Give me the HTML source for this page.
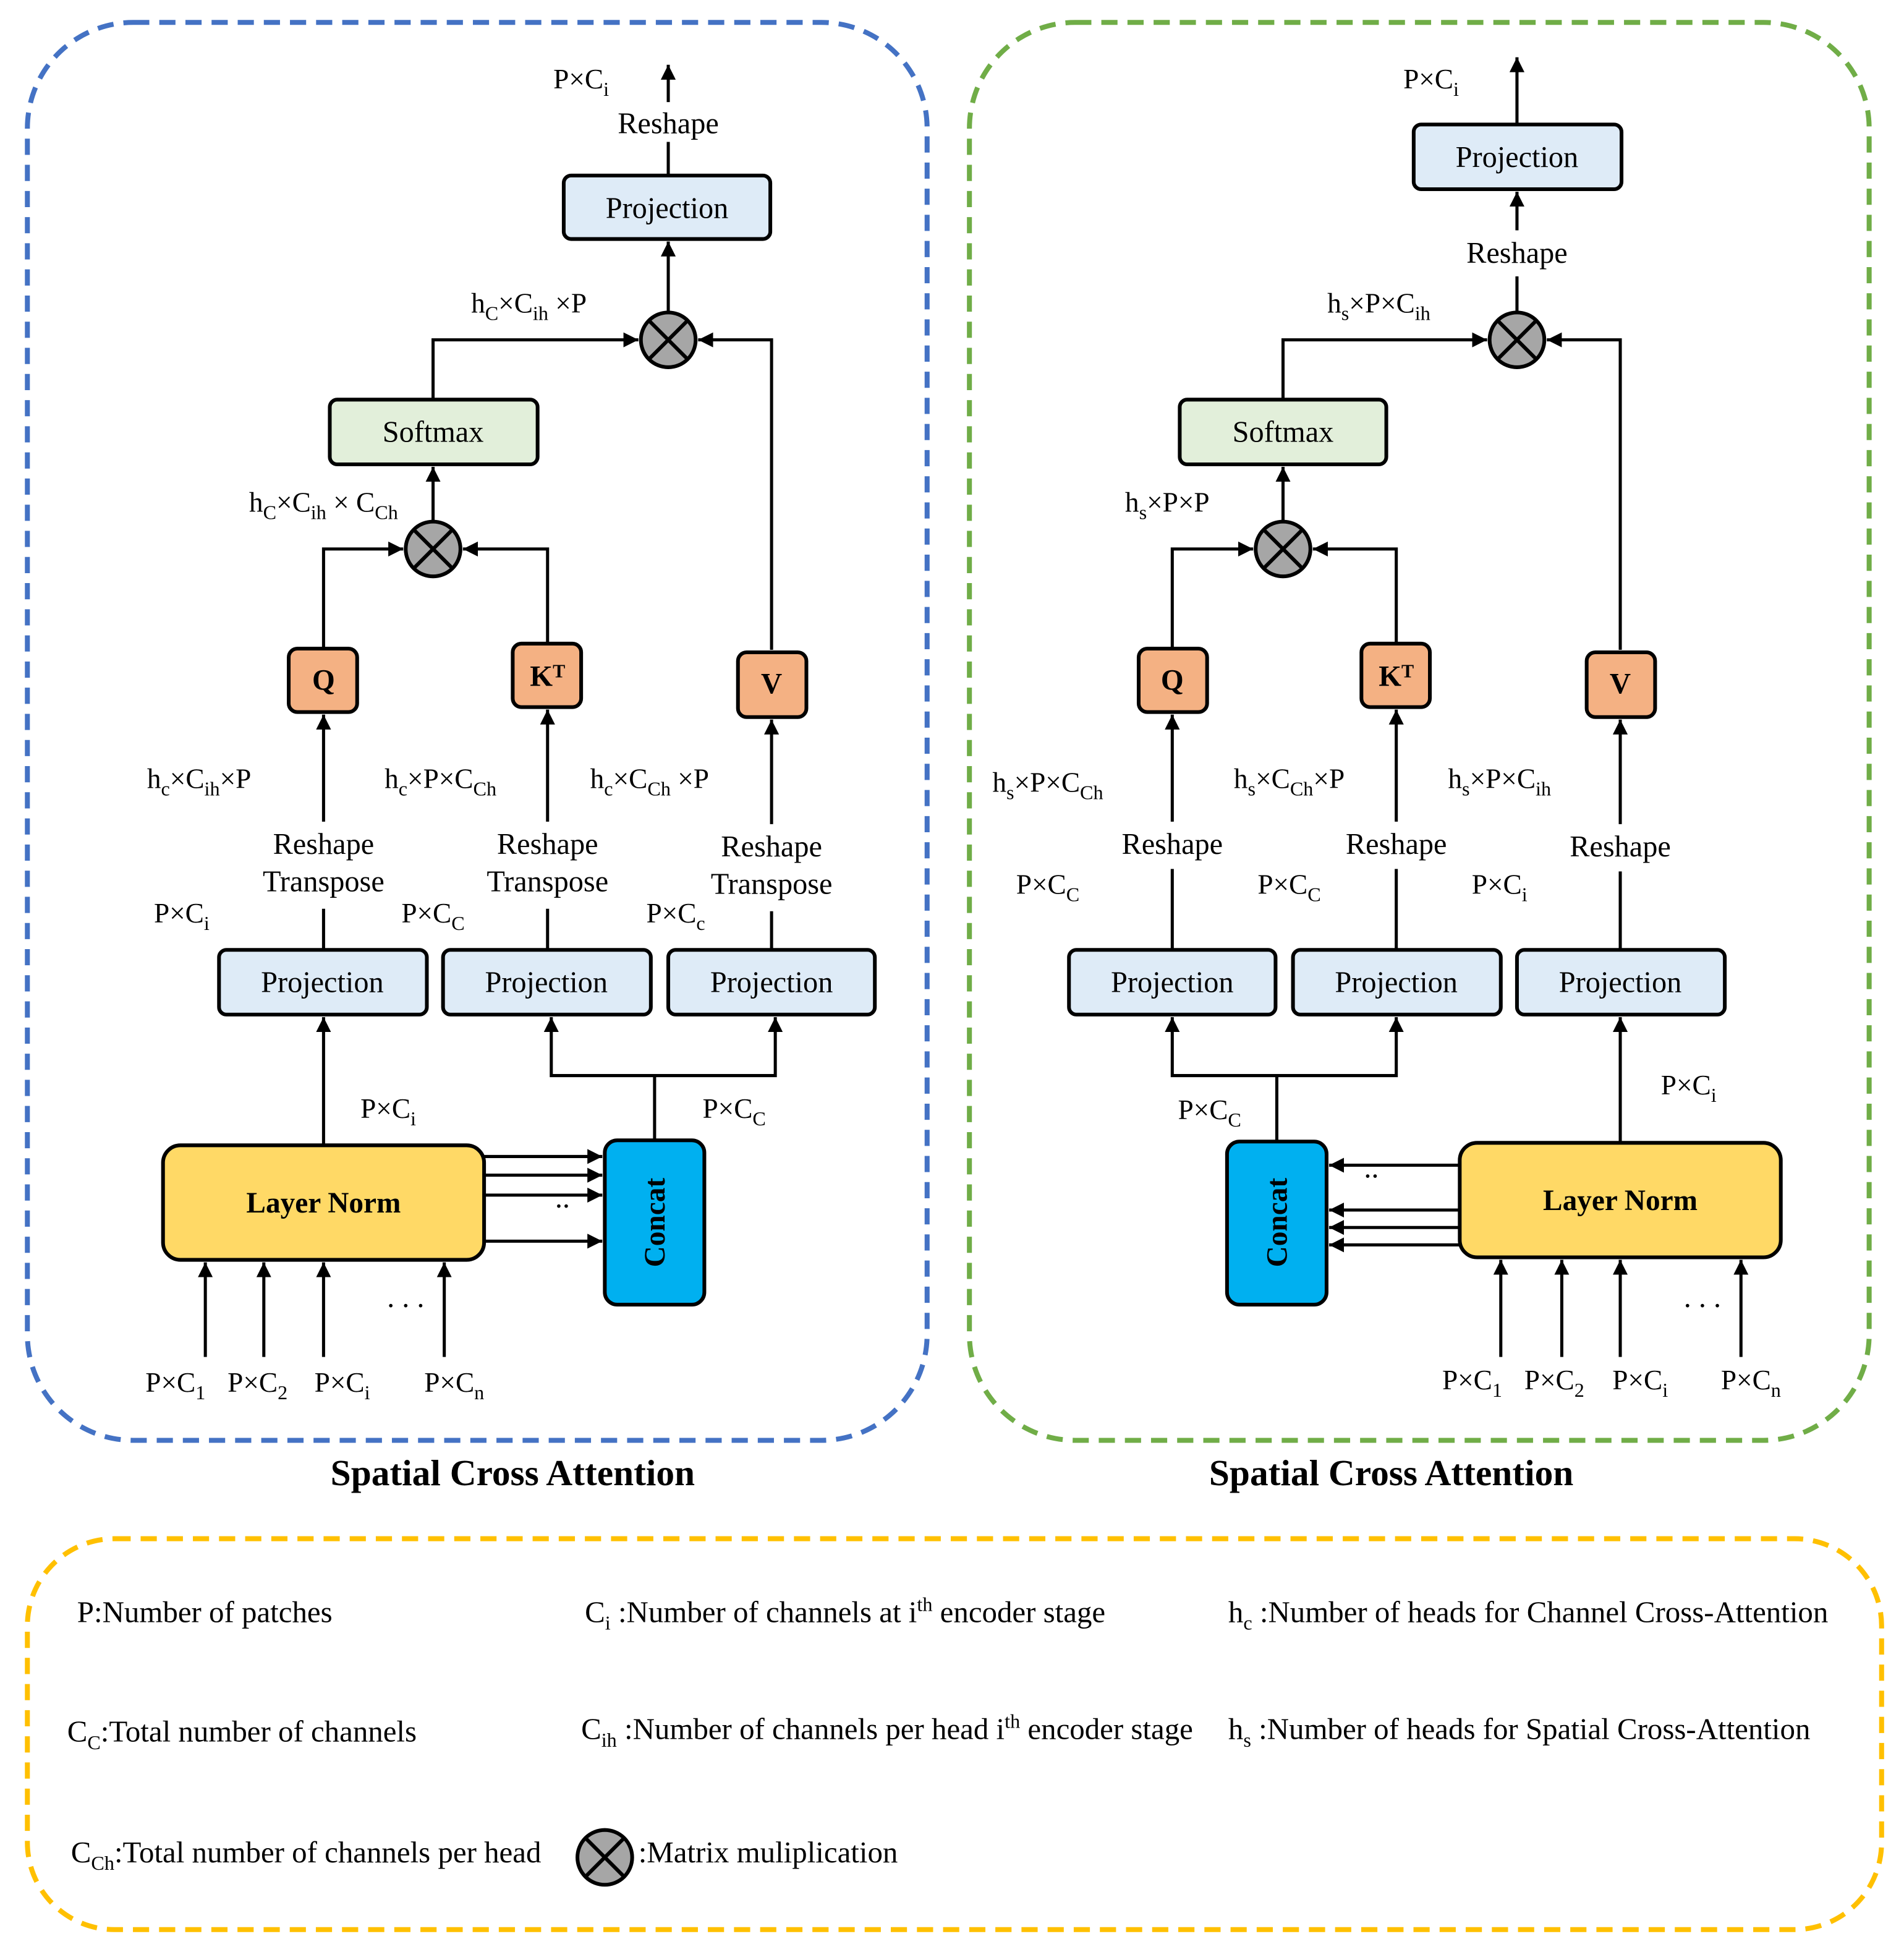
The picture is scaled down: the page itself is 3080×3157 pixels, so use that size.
<!DOCTYPE html>
<html><head><meta charset="utf-8"><style>html,body{margin:0;padding:0;background:#fff}svg{display:block}svg text{font-family:"Liberation Serif","DejaVu Serif",serif}</style></head><body>
<svg width="3080" height="3157" viewBox="0 0 1530 1568" preserveAspectRatio="none" xmlns="http://www.w3.org/2000/svg" style="font-family:'Liberation Serif',serif" font-size="23">
<defs>
<marker id="a" markerUnits="userSpaceOnUse" markerWidth="14" markerHeight="14" refX="12" refY="6" orient="auto"><path d="M0,0 L12,6 L0,12 Z" fill="#000"/></marker>
<g id="mul"><circle r="22" fill="#A6A6A6" stroke="#000" stroke-width="3"/><path d="M-15,-15 L15,15 M15,-15 L-15,15" stroke="#000" stroke-width="3"/></g>
</defs>
<rect x="22" y="18" width="723" height="1139" rx="85" fill="none" stroke="#4472C4" stroke-width="4" stroke-dasharray="13,8"/>
<rect x="779" y="18" width="723" height="1139" rx="85" fill="none" stroke="#70AD47" stroke-width="4" stroke-dasharray="13,8"/>
<rect x="22" y="1236" width="1490" height="314" rx="70" fill="none" stroke="#FFC000" stroke-width="4" stroke-dasharray="13,8"/>
<text x="412" y="1193" text-anchor="middle" font-weight="bold" font-size="29.5">Spatial Cross Attention</text>
<text x="1118" y="1193" text-anchor="middle" font-weight="bold" font-size="29.5">Spatial Cross Attention</text>

<g stroke="#000" stroke-width="2.5" fill="none">
<path d="M537,140 V114 M537,82 V52" marker-end="url(#a)"/>
<path d="M537,251 V194" marker-end="url(#a)"/>
<path d="M348,320 V273 H513" marker-end="url(#a)"/>
<path d="M620,522 V273 H561" marker-end="url(#a)"/>
<path d="M348,419 V375" marker-end="url(#a)"/>
<path d="M260,521 V441 H324" marker-end="url(#a)"/>
<path d="M440,517 V441 H372" marker-end="url(#a)"/>
<path d="M260,762 V730 M260,660 V574" marker-end="url(#a)"/>
<path d="M440,762 V730 M440,660 V570" marker-end="url(#a)"/>
<path d="M620,762 V732 M620,662 V578" marker-end="url(#a)"/>
<path d="M260,920 V817" marker-end="url(#a)"/>
<path d="M526,916 V864 H443 V817" marker-end="url(#a)"/>
<path d="M526,864 H623 V817" marker-end="url(#a)"/>
<path d="M389,929 H484" marker-end="url(#a)"/>
<path d="M389,944 H484" marker-end="url(#a)"/>
<path d="M389,960 H484" marker-end="url(#a)"/>
<path d="M389,997 H484" marker-end="url(#a)"/>
<path d="M165,1090 V1014" marker-end="url(#a)"/>
<path d="M212,1090 V1014" marker-end="url(#a)"/>
<path d="M260,1090 V1014" marker-end="url(#a)"/>
<path d="M357,1090 V1014" marker-end="url(#a)"/>
<path d="M1219,100 V46" marker-end="url(#a)"/>
<path d="M1219,251 V222 M1219,185 V154" marker-end="url(#a)"/>
<path d="M1031,320 V273 H1195" marker-end="url(#a)"/>
<path d="M1302,522 V273 H1243" marker-end="url(#a)"/>
<path d="M1031,419 V375" marker-end="url(#a)"/>
<path d="M942,521 V441 H1007" marker-end="url(#a)"/>
<path d="M1122,517 V441 H1055" marker-end="url(#a)"/>
<path d="M942,762 V698 M942,660 V574" marker-end="url(#a)"/>
<path d="M1122,762 V698 M1122,660 V570" marker-end="url(#a)"/>
<path d="M1302,762 V700 M1302,662 V578" marker-end="url(#a)"/>
<path d="M1302,918 V817" marker-end="url(#a)"/>
<path d="M1026,917 V864 H942 V817" marker-end="url(#a)"/>
<path d="M1026,864 H1122 V817" marker-end="url(#a)"/>
<path d="M1173,936 H1068" marker-end="url(#a)"/>
<path d="M1173,972 H1068" marker-end="url(#a)"/>
<path d="M1173,986 H1068" marker-end="url(#a)"/>
<path d="M1173,1000 H1068" marker-end="url(#a)"/>
<path d="M1206,1090 V1012" marker-end="url(#a)"/>
<path d="M1255,1090 V1012" marker-end="url(#a)"/>
<path d="M1302,1090 V1012" marker-end="url(#a)"/>
<path d="M1399,1090 V1012" marker-end="url(#a)"/>
</g>

<g stroke="#000" stroke-width="3">
<rect x="453" y="141" width="166" height="51" rx="6" fill="#DEEBF7"/>
<rect x="265" y="321" width="167" height="52" rx="6" fill="#E2EFDA"/>
<rect x="232" y="521" width="55" height="51" rx="7" fill="#F4B183"/>
<rect x="412" y="517" width="55" height="51" rx="7" fill="#F4B183"/>
<rect x="593" y="524" width="55" height="52" rx="7" fill="#F4B183"/>
<rect x="176" y="763" width="167" height="52" rx="6" fill="#DEEBF7"/>
<rect x="356" y="763" width="167" height="52" rx="6" fill="#DEEBF7"/>
<rect x="537" y="763" width="166" height="52" rx="6" fill="#DEEBF7"/>
<rect x="131" y="920" width="258" height="92" rx="14" fill="#FFD966"/>
<rect x="486" y="916" width="80" height="132" rx="10" fill="#00B0F0"/>
<rect x="1136" y="100" width="167" height="52" rx="6" fill="#DEEBF7"/>
<rect x="948" y="321" width="166" height="52" rx="6" fill="#E2EFDA"/>
<rect x="915" y="521" width="55" height="51" rx="7" fill="#F4B183"/>
<rect x="1094" y="517" width="55" height="51" rx="7" fill="#F4B183"/>
<rect x="1275" y="524" width="55" height="52" rx="7" fill="#F4B183"/>
<rect x="859" y="763" width="166" height="52" rx="6" fill="#DEEBF7"/>
<rect x="1039" y="763" width="167" height="52" rx="6" fill="#DEEBF7"/>
<rect x="1219" y="763" width="167" height="52" rx="6" fill="#DEEBF7"/>
<rect x="1173" y="918" width="258" height="92" rx="14" fill="#FFD966"/>
<rect x="986" y="917" width="80" height="131" rx="10" fill="#00B0F0"/>
</g>
<use href="#mul" x="537" y="273"/><use href="#mul" x="348" y="441"/>
<use href="#mul" x="1219" y="273"/><use href="#mul" x="1031" y="441"/>
<use href="#mul" x="486" y="1492"/>

<g text-anchor="middle" font-size="24">
<text x="536" y="175">Projection</text><text x="348" y="355">Softmax</text>
<text x="259" y="797">Projection</text><text x="439" y="797">Projection</text><text x="620" y="797">Projection</text>
<text x="1219" y="134">Projection</text><text x="1031" y="355">Softmax</text>
<text x="942" y="797">Projection</text><text x="1122" y="797">Projection</text><text x="1302" y="797">Projection</text>
<g font-weight="bold" font-size="23.5"><text x="260" y="554">Q</text><text x="440" y="551">K<tspan font-size="15" dy="-7">T</tspan></text><text x="620" y="557">V</text>
<text x="942" y="554">Q</text><text x="1122" y="551">K<tspan font-size="15" dy="-7">T</tspan></text><text x="1302" y="557">V</text>
<text x="260" y="974">Layer Norm</text><text x="1302" y="972">Layer Norm</text>
<text transform="translate(534,982) rotate(-90)">Concat</text><text transform="translate(1034,982) rotate(-90)">Concat</text></g>
<text x="537" y="107">Reshape</text>
<text x="260" y="686">Reshape</text><text x="260" y="716">Transpose</text>
<text x="440" y="686">Reshape</text><text x="440" y="716">Transpose</text>
<text x="620" y="688">Reshape</text><text x="620" y="718">Transpose</text>
<text x="1219" y="211">Reshape</text>
<text x="942" y="686">Reshape</text><text x="1122" y="686">Reshape</text><text x="1302" y="688">Reshape</text>
</g>

<g text-anchor="middle" font-size="22.5">
<text x="467" y="71">P×C<tspan font-size="16" dy="6">i</tspan></text>
<text x="425" y="251">h<tspan font-size="16" dy="6">C</tspan><tspan dy="-6">×C</tspan><tspan font-size="16" dy="6">ih</tspan><tspan dy="-6"> ×P</tspan></text>
<text x="260" y="411">h<tspan font-size="16" dy="6">C</tspan><tspan dy="-6">×C</tspan><tspan font-size="16" dy="6">ih</tspan><tspan dy="-6"> × C</tspan><tspan font-size="16" dy="6">Ch</tspan></text>
<text x="160" y="633">h<tspan font-size="16" dy="6">c</tspan><tspan dy="-6">×C</tspan><tspan font-size="16" dy="6">ih</tspan><tspan dy="-6">×P</tspan></text>
<text x="354" y="633">h<tspan font-size="16" dy="6">c</tspan><tspan dy="-6">×P×C</tspan><tspan font-size="16" dy="6">Ch</tspan></text>
<text x="522" y="633">h<tspan font-size="16" dy="6">c</tspan><tspan dy="-6">×C</tspan><tspan font-size="16" dy="6">Ch</tspan><tspan dy="-6"> ×P</tspan></text>
<text x="146" y="741">P×C<tspan font-size="16" dy="6">i</tspan></text>
<text x="348" y="741">P×C<tspan font-size="16" dy="6">C</tspan></text>
<text x="543" y="741">P×C<tspan font-size="16" dy="6">c</tspan></text>
<text x="312" y="898">P×C<tspan font-size="16" dy="6">i</tspan></text>
<text x="590" y="898">P×C<tspan font-size="16" dy="6">C</tspan></text>
<text x="141" y="1118">P×C<tspan font-size="16" dy="6">1</tspan></text>
<text x="207" y="1118">P×C<tspan font-size="16" dy="6">2</tspan></text>
<text x="275" y="1118">P×C<tspan font-size="16" dy="6">i</tspan></text>
<text x="365" y="1118">P×C<tspan font-size="16" dy="6">n</tspan></text>
<text x="326" y="1050" font-size="24">. . .</text>
<text x="452" y="970" font-size="24">..</text>
<text x="1150" y="71">P×C<tspan font-size="16" dy="6">i</tspan></text>
<text x="1108" y="251">h<tspan font-size="16" dy="6">s</tspan><tspan dy="-6">×P×C</tspan><tspan font-size="16" dy="6">ih</tspan></text>
<text x="938" y="411">h<tspan font-size="16" dy="6">s</tspan><tspan dy="-6">×P×P</tspan></text>
<text x="842" y="636">h<tspan font-size="16" dy="6">s</tspan><tspan dy="-6">×P×C</tspan><tspan font-size="16" dy="6">Ch</tspan></text>
<text x="1036" y="633">h<tspan font-size="16" dy="6">s</tspan><tspan dy="-6">×C</tspan><tspan font-size="16" dy="6">Ch</tspan><tspan dy="-6">×P</tspan></text>
<text x="1205" y="633">h<tspan font-size="16" dy="6">s</tspan><tspan dy="-6">×P×C</tspan><tspan font-size="16" dy="6">ih</tspan></text>
<text x="842" y="718">P×C<tspan font-size="16" dy="6">C</tspan></text>
<text x="1036" y="718">P×C<tspan font-size="16" dy="6">C</tspan></text>
<text x="1205" y="718">P×C<tspan font-size="16" dy="6">i</tspan></text>
<text x="972" y="899">P×C<tspan font-size="16" dy="6">C</tspan></text>
<text x="1357" y="879">P×C<tspan font-size="16" dy="6">i</tspan></text>
<text x="1183" y="1116">P×C<tspan font-size="16" dy="6">1</tspan></text>
<text x="1249" y="1116">P×C<tspan font-size="16" dy="6">2</tspan></text>
<text x="1318" y="1116">P×C<tspan font-size="16" dy="6">i</tspan></text>
<text x="1407" y="1116">P×C<tspan font-size="16" dy="6">n</tspan></text>
<text x="1368" y="1050" font-size="24">. . .</text>
<text x="1102" y="946" font-size="24">..</text>
</g>

<g font-size="24.3">
<text x="62" y="1303">P:Number of patches</text>
<text x="470" y="1303">C<tspan font-size="16" dy="6">i</tspan><tspan dy="-6"> :Number of channels at i</tspan><tspan font-size="16" dy="-9">th</tspan><tspan dy="9"> encoder stage</tspan></text>
<text x="987" y="1303">h<tspan font-size="16" dy="6">c</tspan><tspan dy="-6"> :Number of heads for Channel Cross-Attention</tspan></text>
<text x="54" y="1399">C<tspan font-size="16" dy="6">C</tspan><tspan dy="-6">:Total number of channels</tspan></text>
<text x="467" y="1397">C<tspan font-size="16" dy="6">ih</tspan><tspan dy="-6"> :Number of channels per head i</tspan><tspan font-size="16" dy="-9">th</tspan><tspan dy="9"> encoder stage</tspan></text>
<text x="987" y="1397">h<tspan font-size="16" dy="6">s</tspan><tspan dy="-6"> :Number of heads for Spatial Cross-Attention</tspan></text>
<text x="57" y="1496">C<tspan font-size="16" dy="6">Ch</tspan><tspan dy="-6">:Total number of channels per head</tspan></text>
<text x="513" y="1496">:Matrix muliplication</text>
</g>
</svg>
</body></html>
